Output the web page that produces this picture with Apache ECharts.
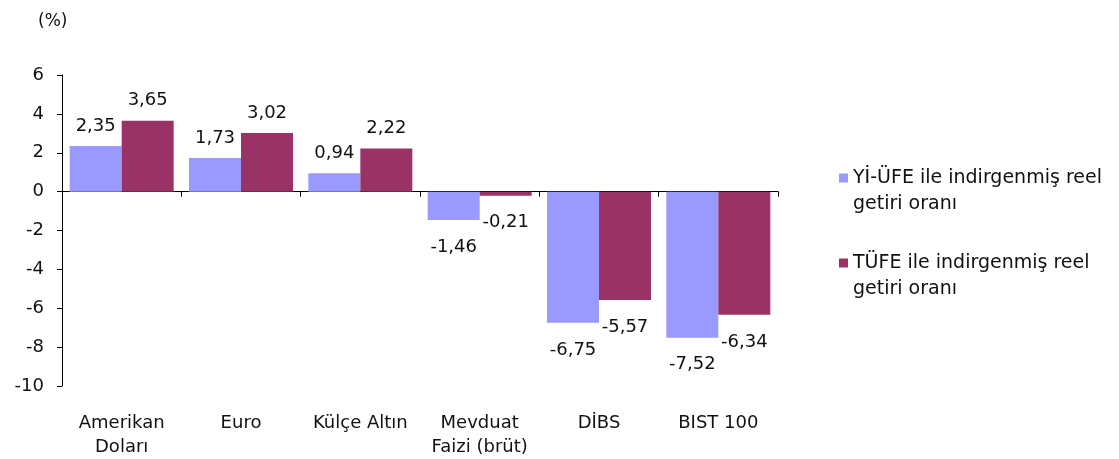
<!DOCTYPE html>
<html>
<head>
<meta charset="utf-8">
<script src="https://cdn.jsdelivr.net/npm/echarts/dist/echarts.min.js"></script>
<style>
  html, body { margin: 0; padding: 0; background: #fff; }
  #chart { width: 1119px; height: 459px; }
</style>
</head>
<body>
<div id="chart"></div>
<script>
// kategoriler
var categories = ['Amerikan\nDoları', 'Euro', 'Külçe Altın', 'Mevduat\nFaizi (brüt)', 'DİBS', 'BIST 100'];
// Yİ-ÜFE ile indirgenmiş reel getiri
var yiufeValues = [2.35, 1.73, 0.94, -1.46, -6.75, -7.52];
// TÜFE ile indirgenmiş reel getiri
var tufeValues = [3.65, 3.02, 2.22, -0.21, -5.57, -6.34];
// y ekseni
var yMin = -10, yMax = 6, yStep = 2;

var seriesNames = ['Yİ-ÜFE ile indirgenmiş reel\ngetiri oranı', 'TÜFE ile indirgenmiş reel\ngetiri oranı'];
var colors = ['#9999ff', '#993366'];
var font = 'DejaVu Sans';

// negatif değerlerde etiket çubuğun altında
function toData(values) {
  return values.map(function (v) {
    return {
      value: v,
      label: v < 0 ? { position: 'bottom', distance: 18 } : { position: 'top', distance: 11 }
    };
  });
}

function fmt(p) {
  return p.value.toFixed(2).replace('.', ',');
}

var chart = echarts.init(document.getElementById('chart'));

var option = {
  backgroundColor: '#ffffff',
  animation: false,
  title: {
    text: '(%)',
    left: 33,
    top: 8,
    textStyle: { fontFamily: font, fontSize: 17, fontWeight: 'normal', color: '#111' }
  },
  legend: {
    orient: 'vertical',
    left: 834,
    top: 160,
    itemWidth: 9,
    itemHeight: 35,
    itemGap: 33,
    // kare ikon ilk satır hizasında: yolun alt kısmı boş
    icon: 'path://M0,0L9,0L9,9L0,9Z M0,35',
    data: seriesNames,
    textStyle: {
      fontFamily: font,
      fontSize: 19,
      color: '#111',
      lineHeight: 26
    }
  },
  grid: {
    left: 62,
    right: 341,
    top: 75,
    bottom: 72
  },
  xAxis: [{
    type: 'category',
    data: categories,
    axisLine: { onZero: true, lineStyle: { color: '#000', width: 1 } },
    axisTick: { show: true, length: 5, lineStyle: { color: '#000' } },
    axisLabel: { show: false }
  }, {
    type: 'category',
    data: categories,
    position: 'bottom',
    axisLine: { show: false, onZero: false },
    axisTick: { show: false },
    axisLabel: {
      margin: 25,
      fontFamily: font,
      fontSize: 18,
      lineHeight: 24,
      color: '#111',
      interval: 0
    }
  }],
  yAxis: {
    type: 'value',
    min: yMin,
    max: yMax,
    interval: yStep,
    axisLine: { show: true, lineStyle: { color: '#000', width: 1 } },
    axisTick: { show: true, length: 5, lineStyle: { color: '#000' } },
    splitLine: { show: false },
    axisLabel: {
      margin: 18,
      fontFamily: font,
      fontSize: 18,
      color: '#111'
    }
  },
  series: [{
    name: seriesNames[0],
    type: 'bar',
    data: toData(yiufeValues),
    barWidth: 52,
    barGap: '0%',
    itemStyle: { color: colors[0] },
    label: { show: true, fontFamily: font, fontSize: 18, color: '#111', formatter: fmt }
  }, {
    name: seriesNames[1],
    type: 'bar',
    data: toData(tufeValues),
    barWidth: 52,
    barGap: '0%',
    itemStyle: { color: colors[1] },
    label: { show: true, fontFamily: font, fontSize: 18, color: '#111', formatter: fmt }
  }]
};

chart.setOption(option);
</script>
</body>
</html>
